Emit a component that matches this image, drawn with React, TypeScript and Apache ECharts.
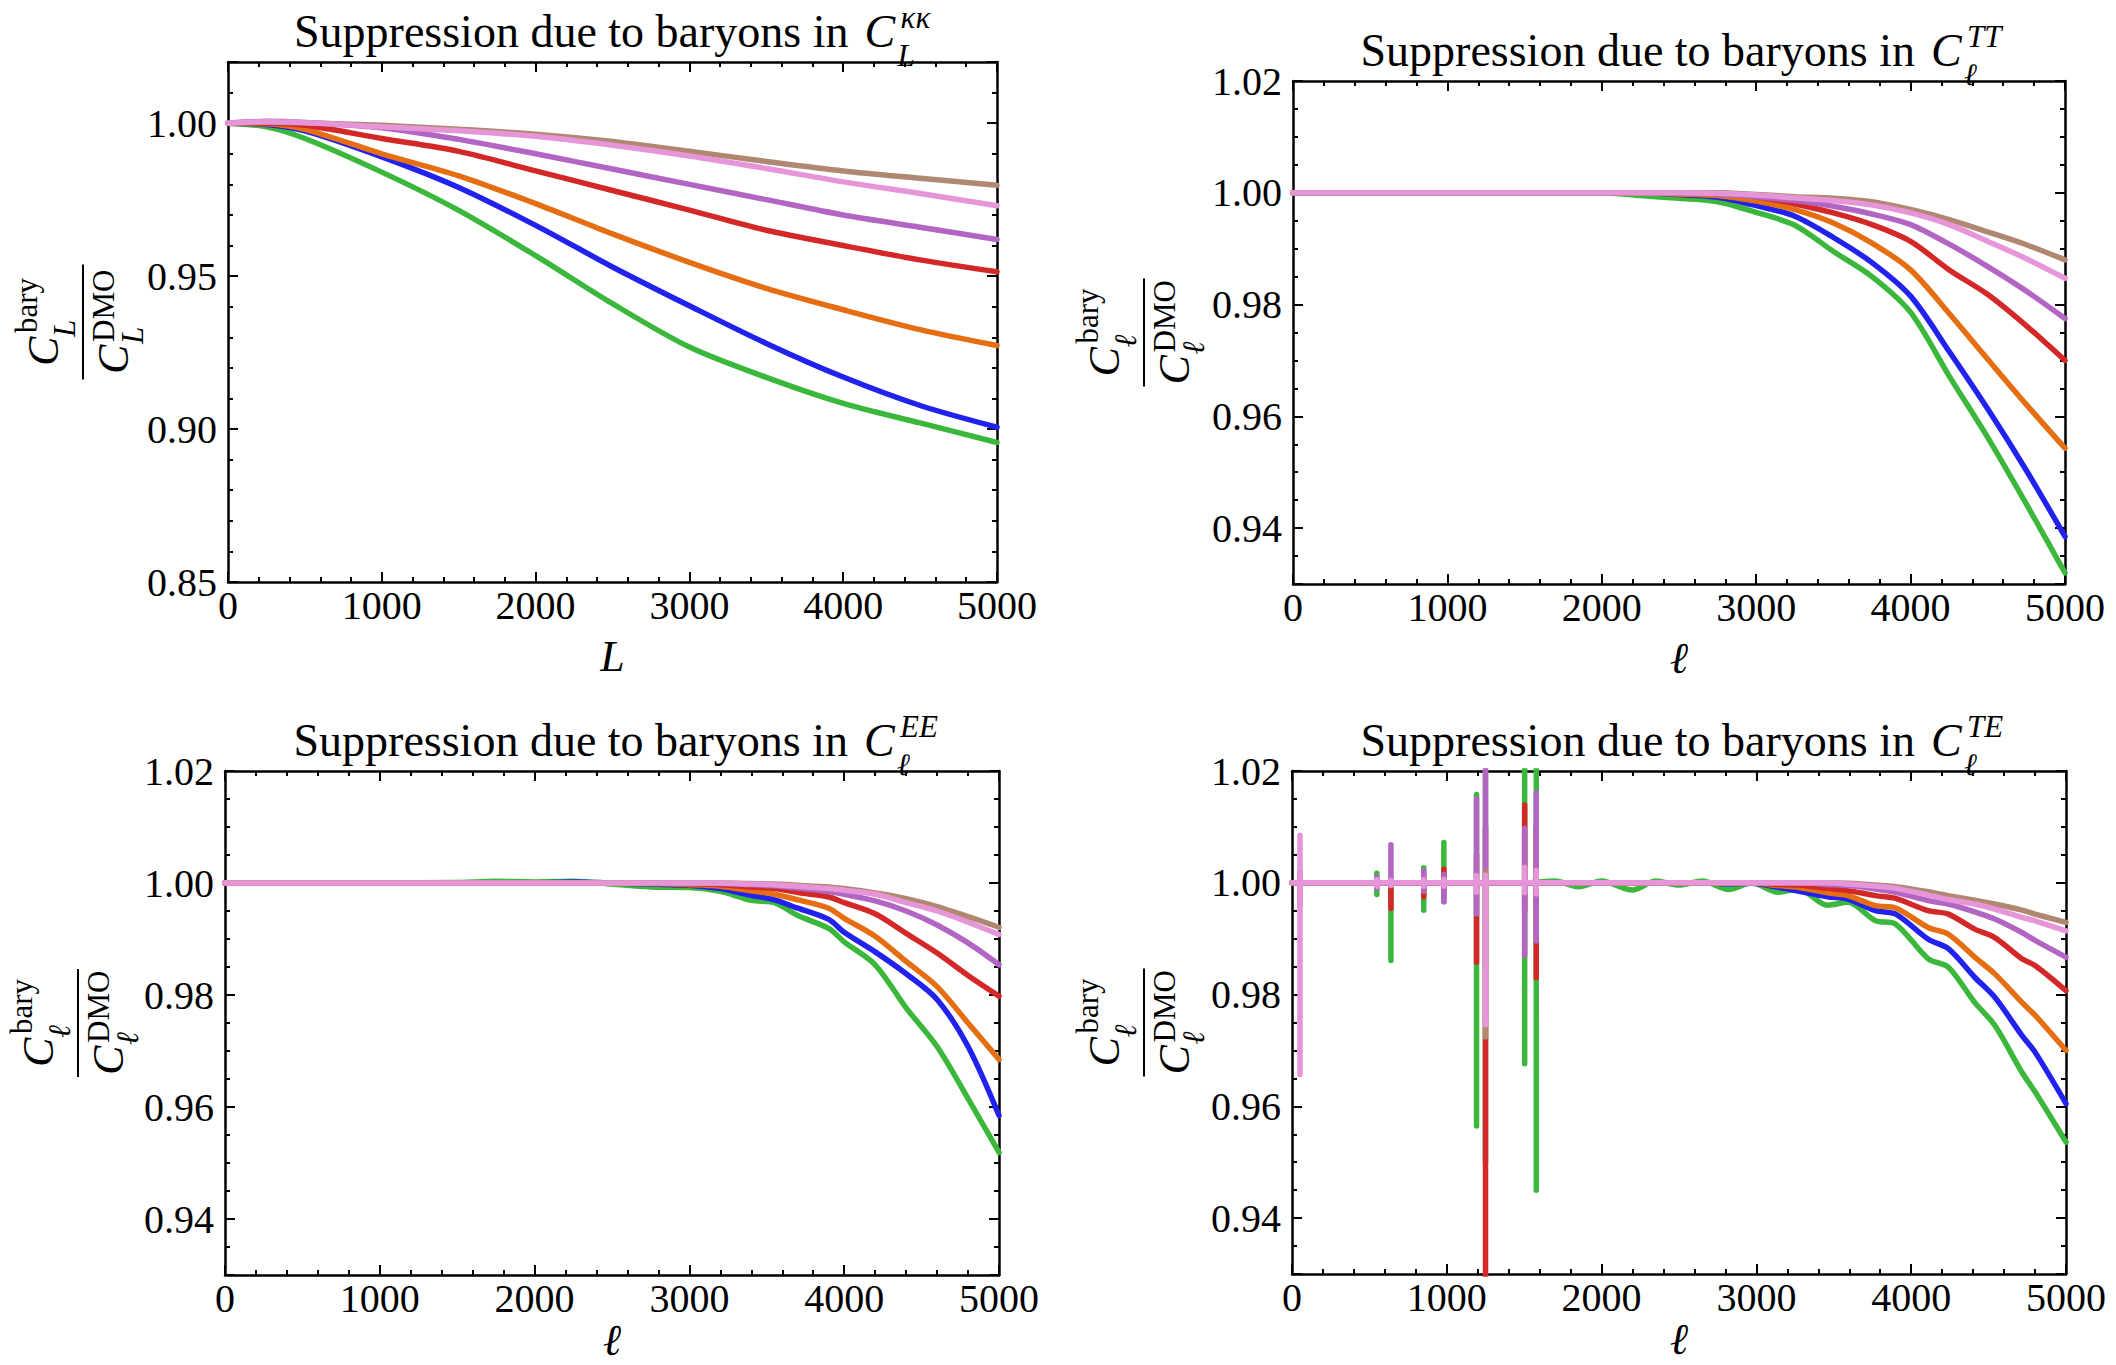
import React, { useEffect, useRef } from "react";
import * as echarts from "echarts";

// ---------- data ----------
const SERIES_NAMES = ["green", "blue", "orange", "red", "purple", "brown", "pink"];
const SERIES_COLORS = ["#3bb83b", "#2222ee", "#e66e12", "#d42828", "#b265c3", "#b08770", "#e696d8"];

// Panel 1: C_L^{kappa kappa}
const X_KK = [0, 250, 500, 1000, 1500, 2000, 2500, 3000, 3500, 4000, 4500, 5000];
const KK_GREEN = [1.0, 0.9988, 0.995, 0.984, 0.9715, 0.9567, 0.941, 0.9268, 0.9169, 0.9084, 0.902, 0.8956];
const KK_BLUE = [1.0, 0.9996, 0.9975, 0.989, 0.979, 0.9666, 0.953, 0.9403, 0.928, 0.917, 0.9077, 0.9006];
const KK_ORANGE = [1.0, 0.9998, 0.998, 0.990, 0.9828, 0.9737, 0.9638, 0.9545, 0.946, 0.939, 0.9325, 0.9273];
const KK_RED = [1.0, 1.0, 0.9993, 0.995, 0.9908, 0.9844, 0.978, 0.9716, 0.965, 0.96, 0.9553, 0.9514];
const KK_PURPLE = [1.0, 1.0006, 1.0002, 0.9985, 0.9947, 0.99, 0.985, 0.98, 0.975, 0.97, 0.966, 0.962];
const KK_BROWN = [1.0, 1.0003, 1.0001, 0.9993, 0.998, 0.9964, 0.994, 0.9908, 0.9875, 0.9844, 0.982, 0.9797];
const KK_PINK = [1.0, 1.0005, 1.0002, 0.9988, 0.9975, 0.9957, 0.9928, 0.9893, 0.9852, 0.9808, 0.977, 0.973];

// Panel 2: C_l^{TT}
const X_TT = [0, 500, 1000, 1500, 2000, 2250, 2500, 2750, 3000, 3250, 3500, 3750, 4000, 4250, 4500, 4750, 5000];
const TT_GREEN = [1, 1, 1, 1, 1, 0.9995, 0.999, 0.9984, 0.9965, 0.9942, 0.9895, 0.985, 0.9786, 0.9672, 0.9562, 0.9443, 0.932];
const TT_BLUE = [1, 1, 1, 1, 1, 1, 0.9997, 0.9992, 0.9977, 0.9958, 0.992, 0.9875, 0.9815, 0.9716, 0.9613, 0.9503, 0.9385];
const TT_ORANGE = [1, 1, 1, 1, 1, 1, 0.9998, 0.9995, 0.9985, 0.997, 0.9946, 0.991, 0.9862, 0.9784, 0.9702, 0.9621, 0.9543];
const TT_RED = [1, 1, 1, 1, 1, 1, 1, 0.9999, 0.9993, 0.998, 0.9964, 0.9943, 0.9913, 0.9862, 0.9818, 0.9762, 0.97];
const TT_PURPLE = [1, 1, 1, 1, 1, 1, 1, 0.9998, 0.9993, 0.9986, 0.9976, 0.9962, 0.9943, 0.9908, 0.9868, 0.9824, 0.9775];
const TT_BROWN = [1, 1, 1, 1, 1, 1, 1, 1, 0.9997, 0.9993, 0.999, 0.9984, 0.997, 0.9952, 0.993, 0.9907, 0.988];
const TT_PINK = [1, 1, 1, 1, 1, 1, 1, 0.9999, 0.9996, 0.9991, 0.9986, 0.9978, 0.9964, 0.9943, 0.9913, 0.9882, 0.9847];

// Panel 3: C_l^{EE}
const X_EE = [0, 1000, 1500, 1750, 2000, 2250, 2500, 2750, 3000, 3200, 3400, 3550, 3700, 3900, 4000, 4200, 4400, 4600, 4800, 5000];
const EE_GREEN = [1, 1, 1.0001, 1.0003, 1.0002, 1.0003, 0.9998, 0.9993, 0.9992, 0.9985, 0.9969, 0.9965, 0.9942, 0.9919, 0.9895, 0.9854, 0.9777, 0.9708, 0.9615, 0.9519];
const EE_BLUE = [1, 1, 1, 1, 1, 1.0002, 1, 0.9998, 0.9996, 0.999, 0.9978, 0.997, 0.9955, 0.9935, 0.9912, 0.9877, 0.9838, 0.9792, 0.9708, 0.9585];
const EE_ORANGE = [1, 1, 1, 1, 1, 1, 1, 0.9999, 0.9997, 0.9994, 0.9986, 0.998, 0.997, 0.9955, 0.9937, 0.9905, 0.986, 0.9815, 0.975, 0.9685];
const EE_RED = [1, 1, 1, 1, 1, 1, 1, 1, 0.9999, 0.9997, 0.9993, 0.999, 0.9983, 0.9975, 0.9965, 0.9945, 0.991, 0.9875, 0.9835, 0.9798];
const EE_PURPLE = [1, 1, 1, 1, 1, 1, 1, 1, 1, 0.9999, 0.9997, 0.9995, 0.9991, 0.9985, 0.998, 0.9968, 0.995, 0.9925, 0.9893, 0.9854];
const EE_BROWN = [1, 1, 1, 1, 1, 1, 1, 1, 1, 1, 0.9999, 0.9998, 0.9996, 0.9993, 0.999, 0.9982, 0.9972, 0.9958, 0.994, 0.9921];
const EE_PINK = [1, 1, 1, 1, 1, 1, 1, 1, 1, 1, 0.9998, 0.9997, 0.9994, 0.999, 0.9987, 0.998, 0.9965, 0.995, 0.993, 0.9908];

// Panel 4: C_l^{TE}
const X_TE = [0, 500, 1000, 1500, 1700, 1850, 2000, 2200, 2350, 2500, 2650, 2820, 2970, 3140, 3270, 3460, 3590, 3770, 3900, 4110, 4240, 4410, 4540, 4715, 4800, 5000];
const TE_GREEN = [1, 1, 1, 1, 1.0003, 0.9993, 1.0003, 0.9987, 1.0003, 0.9996, 1.0003, 0.9988, 1.0, 0.9983, 0.9989, 0.996, 0.9965, 0.9932, 0.9926, 0.9864, 0.9849, 0.9786, 0.9745, 0.9661, 0.9626, 0.9536];
const TE_BLUE = [1, 1, 1, 1, 1, 1, 1, 1, 1, 1, 1, 0.9998, 0.9999, 0.9992, 0.9985, 0.9975, 0.9971, 0.995, 0.9944, 0.9899, 0.9882, 0.9831, 0.9795, 0.9727, 0.9697, 0.9605];
const TE_ORANGE = [1, 1, 1, 1, 1, 1, 1, 1, 1, 1, 1, 0.9999, 1, 0.9995, 0.9992, 0.9982, 0.9977, 0.9959, 0.9955, 0.992, 0.9908, 0.9867, 0.9837, 0.9786, 0.9763, 0.97];
const TE_RED = [1, 1, 1, 1, 1, 1, 1, 1, 1, 1, 1, 1, 1, 0.9997, 0.9996, 0.999, 0.9986, 0.9977, 0.9972, 0.995, 0.9944, 0.9917, 0.9902, 0.9864, 0.9852, 0.9807];
const TE_PURPLE = [1, 1, 1, 1, 1, 1, 1, 1, 1, 1, 1, 1, 1, 1, 1, 0.9997, 0.9995, 0.9989, 0.9983, 0.9968, 0.9962, 0.9948, 0.9935, 0.9911, 0.9897, 0.9867];
const TE_BROWN = [1, 1, 1, 1, 1, 1, 1, 1, 1, 1, 1, 1, 1, 1, 1, 1, 0.9999, 0.9996, 0.9993, 0.9984, 0.9977, 0.9969, 0.9962, 0.9951, 0.9944, 0.9929];
const TE_PINK = [1, 1, 1, 1, 1, 1, 1, 1, 1, 1, 1, 1, 1, 1, 1, 1, 0.9998, 0.9994, 0.999, 0.9978, 0.997, 0.9962, 0.9953, 0.9938, 0.9932, 0.9914];

// TE spikes (zero crossings of C_l^TE): [ell, high, low]
const TE_SPIKES_GREEN = [[548, 1.0017, 0.9979], [639, 1.001, 0.9861], [851, 1.0027, 0.9951], [981, 1.0072, 0.9966], [1192, 1.0158, 0.9565], [1250, 1.02, 0.95], [1503, 1.03, 0.9676], [1578, 1.03, 0.945]];
const TE_SPIKES_BLUE: number[][] = [];
const TE_SPIKES_ORANGE: number[][] = [];
const TE_SPIKES_RED = [[639, 1.0005, 0.9954], [851, 1.0008, 0.9975], [981, 1.0024, 0.999], [1192, 1.005, 0.9858], [1250, 1.01, 0.9], [1503, 1.0139, 0.995], [1578, 1.01, 0.983]];
const TE_SPIKES_PURPLE = [[52, 1.002, 0.9957], [548, 1.001, 0.999], [639, 1.0068, 0.9995], [851, 1.0022, 0.9985], [981, 1.0015, 0.9966], [1192, 1.0151, 0.9944], [1250, 1.03, 0.985], [1503, 1.0097, 0.987], [1578, 1.0161, 0.9896]];
const TE_SPIKES_BROWN = [[1250, 1.002, 0.9724]];
const TE_SPIKES_PINK = [[52, 1.0085, 0.9657], [548, 1.0006, 0.9994], [639, 1.0005, 0.9995], [851, 1.0006, 0.9994], [981, 1.0006, 0.9994], [1192, 1.0013, 0.9983], [1250, 1.0014, 0.9746], [1503, 1.0028, 0.9982], [1578, 1.0022, 0.998]];

const TITLE_MAIN = "Suppression due to baryons in";
const TITLE_SUP = ["κκ", "TT", "EE", "TE"];
const INDEX_SYMBOL = ["L", "ℓ", "ℓ", "ℓ"];

// ---------- layout ----------
const FONT = "Liberation Serif";
const GRIDS = [
  { left: 228, top: 62, width: 769, height: 520 },
  { left: 1293, top: 81, width: 772, height: 503 },
  { left: 225, top: 771, width: 774, height: 504 },
  { left: 1292, top: 771, width: 774, height: 503 },
];
const Y_CFG = [
  { min: 0.85, max: 1.02, major: 0.05, minor: 0.01 },
  { min: 0.93, max: 1.02, major: 0.02, minor: 0.005 },
  { min: 0.93, max: 1.02, major: 0.02, minor: 0.005 },
  { min: 0.93, max: 1.02, major: 0.02, minor: 0.005 },
];
const FRAC_POS = [
  { x: 83, w: 115 },
  { x: 1144, w: 108 },
  { x: 78, w: 108 },
  { x: 1144, w: 108 },
];
const XNAME_GAP = [89, 89, 80, 80];

const PANELS = [
  { x: X_KK, ys: [KK_GREEN, KK_BLUE, KK_ORANGE, KK_RED, KK_PURPLE, KK_BROWN, KK_PINK], spikes: null as null | number[][][] },
  { x: X_TT, ys: [TT_GREEN, TT_BLUE, TT_ORANGE, TT_RED, TT_PURPLE, TT_BROWN, TT_PINK], spikes: null },
  { x: X_EE, ys: [EE_GREEN, EE_BLUE, EE_ORANGE, EE_RED, EE_PURPLE, EE_BROWN, EE_PINK], spikes: null },
  {
    x: X_TE,
    ys: [TE_GREEN, TE_BLUE, TE_ORANGE, TE_RED, TE_PURPLE, TE_BROWN, TE_PINK],
    spikes: [TE_SPIKES_GREEN, TE_SPIKES_BLUE, TE_SPIKES_ORANGE, TE_SPIKES_RED, TE_SPIKES_PURPLE, TE_SPIKES_BROWN, TE_SPIKES_PINK],
  },
];

const isMultiple = (v: number, step: number) => {
  const k = v / step;
  return Math.abs(k - Math.round(k)) < 1e-6;
};

const AXIS_LINE = { show: true, onZero: false, lineStyle: { color: "#000", width: 2.5 } };
const TICK_STYLE = { color: "#000", width: 2 };

function buildXAxes(g: number) {
  const base = (position: string, showLabel: boolean) => ({
    type: "value",
    gridIndex: g,
    position,
    min: 0,
    max: 5000,
    interval: 1000,
    axisLine: AXIS_LINE,
    axisTick: { show: true, inside: true, length: 10, lineStyle: TICK_STYLE },
    minorTick: { show: true, splitNumber: 5, length: 5, lineStyle: TICK_STYLE },
    splitLine: { show: false },
    minorSplitLine: { show: false },
    axisLabel: {
      show: showLabel,
      margin: 3,
      fontFamily: FONT,
      fontSize: 40,
      color: "#000",
      formatter: (v: number) => String(Math.round(v)),
    },
  });
  return [base("bottom", true), base("top", false)];
}

function buildYAxes(g: number) {
  const c = Y_CFG[g];
  const major = (position: string, showLabel: boolean) => {
    const a: any = {
      type: "value",
      gridIndex: g,
      position,
      min: c.min,
      max: c.max,
      axisLine: AXIS_LINE,
      axisTick: { show: true, inside: true, length: 10, lineStyle: TICK_STYLE },
      splitLine: { show: false },
      axisLabel: {
        show: showLabel,
        margin: 11,
        fontFamily: FONT,
        fontSize: 40,
        color: "#000",
        formatter: (v: number) => (isMultiple(v, c.major) ? v.toFixed(2) : ""),
      },
    };
    if (isMultiple(c.min, c.major)) {
      a.interval = c.major;
    } else {
      a.minInterval = c.major;
      a.maxInterval = c.major;
      a.splitNumber = 5;
    }
    return a;
  };
  const minor = (position: string) => ({
    type: "value",
    gridIndex: g,
    position,
    min: c.min,
    max: c.max,
    interval: c.minor,
    axisLine: { show: false, onZero: false },
    axisTick: { show: true, inside: true, length: 5, lineStyle: TICK_STYLE },
    splitLine: { show: false },
    axisLabel: { show: false },
  });
  return [major("left", true), minor("left"), major("right", false), minor("right")];
}

function buildSeries() {
  const out: any[] = [];
  PANELS.forEach((p, g) => {
    p.ys.forEach((ys, k) => {
      const color = SERIES_COLORS[k];
      out.push({
        type: "line",
        name: `${SERIES_NAMES[k]}-${g}`,
        xAxisIndex: 2 * g,
        yAxisIndex: 4 * g,
        data: p.x.map((x, i) => [x, ys[i]]),
        symbol: "none",
        showSymbol: false,
        smooth: 0.3,
        clip: true,
        silent: true,
        lineStyle: { color, width: 5.5, cap: "round", join: "round" },
        emphasis: { disabled: true },
      });
      if (p.spikes && p.spikes[k].length) {
        const data: any[] = [];
        p.spikes[k].forEach(([l, hi, lo]) => {
          data.push([l, hi], [l, lo], [l, NaN]);
        });
        out.push({
          type: "line",
          name: `${SERIES_NAMES[k]}-spikes-${g}`,
          xAxisIndex: 2 * g,
          yAxisIndex: 4 * g,
          data,
          symbol: "none",
          showSymbol: false,
          connectNulls: false,
          clip: true,
          silent: true,
          lineStyle: { color, width: 5.5, cap: "round" },
          emphasis: { disabled: true },
        });
      }
    });
  });
  return out;
}

// text positioned by its baseline (SVG central baseline ~0.3375em above alphabetic)
function txt(x: number, baseline: number, text: string, fs: number, opts: any = {}) {
  return {
    type: "text",
    x,
    y: baseline - 0.3375 * fs,
    silent: true,
    style: {
      text,
      fontSize: fs,
      fontFamily: FONT,
      fontStyle: opts.italic ? "italic" : "normal",
      fill: "#000",
      align: opts.align || "left",
      verticalAlign: "middle",
      lineHeight: opts.lineHeight || undefined,
    },
  };
}

function buildGraphics() {
  const els: any[] = [];
  GRIDS.forEach((gr, g) => {
    const cx = gr.left + gr.width / 2;
    const cy = gr.top + gr.height / 2;
    const T = gr.top;
    const sym = INDEX_SYMBOL[g];
    // title
    els.push(txt(cx + 236, T - 15, TITLE_MAIN, 46, { align: "right" }));
    els.push(txt(cx + 252, T - 15, "C", 46, { italic: true }));
    els.push(txt(cx + 288, T - 34, TITLE_SUP[g], 31, { italic: true }));
    els.push(txt(cx + 285, T + 4, sym, 31, { italic: true }));
    // x axis name
    els.push(txt(cx, gr.top + gr.height + XNAME_GAP[g], sym, 44, { italic: true, align: "center", lineHeight: 36 }));
    // y axis name (rotated fraction)
    const f = FRAC_POS[g];
    els.push({
      type: "group",
      x: f.x,
      y: cy,
      rotation: Math.PI / 2,
      children: [
        { type: "line", silent: true, shape: { x1: -f.w / 2, y1: 0, x2: f.w / 2, y2: 0 }, style: { stroke: "#000", lineWidth: 2 } },
        txt(-44, -25, "C", 44, { italic: true }),
        txt(-15, -8, sym, 31, { italic: true }),
        txt(-11, -46, "bary", 31),
        txt(-52, 45, "C", 44, { italic: true }),
        txt(-20, 31, "DMO", 31),
        txt(-22, 60, sym, 31, { italic: true }),
      ],
    });
  });
  return els;
}

export default function App() {
  const ref = useRef<HTMLDivElement>(null);
  useEffect(() => {
    if (!ref.current) return;
    const chart = echarts.init(ref.current, undefined, { renderer: "svg" });
    const xAxes: any[] = [];
    const yAxes: any[] = [];
    GRIDS.forEach((_, g) => {
      xAxes.push(...buildXAxes(g));
      yAxes.push(...buildYAxes(g));
    });
    chart.setOption({
      animation: false,
      backgroundColor: "#ffffff",
      grid: GRIDS.map((g) => ({ ...g, containLabel: false, outerBoundsMode: "none" })),
      xAxis: xAxes,
      yAxis: yAxes,
      series: buildSeries(),
      graphic: { elements: buildGraphics() },
    });
    return () => chart.dispose();
  }, []);
  return (
    <div
      ref={ref}
      style={{ position: "fixed", left: 0, top: 0, width: 2116, height: 1365, background: "#fff" }}
    />
  );
}
